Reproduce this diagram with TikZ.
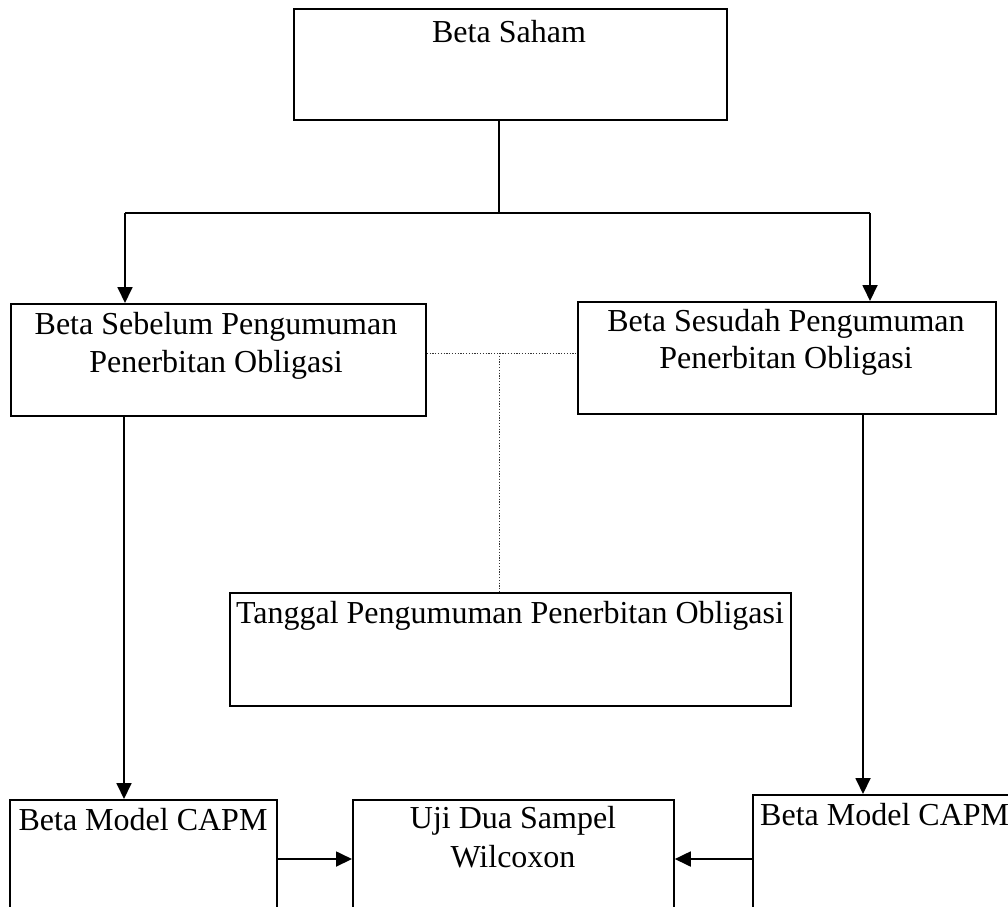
\documentclass[tikz,border=0pt]{standalone}
\usepackage{fontspec}
\setmainfont{Liberation Serif}
\usetikzlibrary{arrows.meta}
\begin{document}
\begin{tikzpicture}[x=1pt,y=-1pt,
  box/.style={draw, line width=1.8pt, rectangle, inner sep=0pt, anchor=north west},
  txt/.style={anchor=base, inner sep=0pt, font=\fontsize{32}{38}\selectfont},
  conn/.style={line width=1.8pt},
  arr/.style={line width=1.8pt, -{Triangle[length=16pt,width=15pt]}},
  dot/.style={line width=1pt, dash pattern=on 1.2pt off 1.6pt, black!80}]
\useasboundingbox (0,0) rectangle (1008,906);
\clip (0,0) rectangle (1008,906);
% boxes
\node[box, minimum width=433pt, minimum height=111pt] (saham) at (293,8) {};
\node[box, minimum width=415pt, minimum height=112pt] (sebelum) at (10,303) {};
\node[box, minimum width=418pt, minimum height=112pt] (sesudah) at (577,301) {};
\node[box, minimum width=561pt, minimum height=113pt] (tanggal) at (229,592) {};
\node[box, minimum width=267pt, minimum height=140pt] (capmL) at (9,799) {};
\node[box, minimum width=321pt, minimum height=140pt] (uji) at (352,799) {};
\node[box, minimum width=280pt, minimum height=140pt] (capmR) at (752,794) {};
% texts
\node[txt] (t1) at (509,42) {Beta Saham};
\node[txt] (t2) at (216,334) {Beta Sebelum Pengumuman};
\node[txt] (t3) at (216,372) {Penerbitan Obligasi};
\node[txt] (t4) at (786,331) {Beta Sesudah Pengumuman};
\node[txt] (t5) at (786,368) {Penerbitan Obligasi};
\node[txt] (t6) at (510,623) {Tanggal Pengumuman Penerbitan Obligasi};
\node[txt] (t7) at (143,830) {Beta Model CAPM};
\node[txt] (t8) at (513,828) {Uji Dua Sampel};
\node[txt] (t9) at (513,867) {Wilcoxon};
\node[txt, anchor=base west] (t10) at (760,825) {Beta Model CAPM};
% connector coordinates
\coordinate (split) at (499,213);
\coordinate (midL) at (125,213);
\coordinate (midR) at (870,213);
\coordinate (dotc) at (499,353);
% connectors
\draw[conn] (saham.south -| split) -- (split);
\draw[conn] (midL) -- (midR);
\draw[arr] (midL) -- (sebelum.north -| midL);
\draw[arr] (midR) -- (sesudah.north -| midR);
\draw[dot] (sebelum.east |- dotc) -- (sesudah.west |- dotc);
\draw[dot] (dotc) -- (tanggal.north -| dotc);
\draw[arr] (sebelum.south -| 124,0) -- (capmL.north -| 124,0);
\draw[arr] (sesudah.south -| 863,0) -- (capmR.north -| 863,0);
\draw[arr] (capmL.east |- 0,859) -- (uji.west |- 0,859);
\draw[arr] (capmR.west |- 0,859) -- (uji.east |- 0,859);
\end{tikzpicture}
\end{document}
